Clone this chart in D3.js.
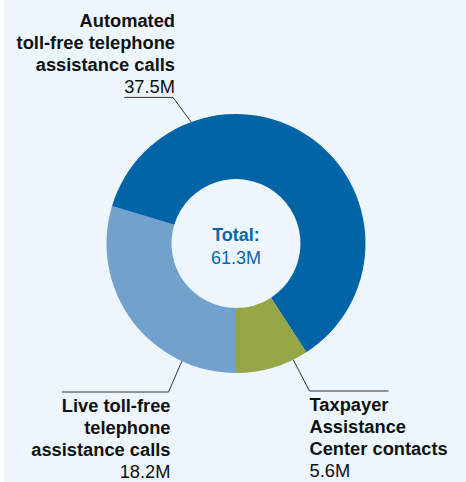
<!DOCTYPE html>
<html>
<head>
<meta charset="utf-8">
<script src="https://cdn.jsdelivr.net/npm/d3@7"></script>
<style>
  html, body { margin: 0; padding: 0; background: #ffffff; }
  svg { display: block; font-family: "Liberation Sans", Arial, sans-serif; }
</style>
</head>
<body>
<svg id="chart" width="466" height="482"></svg>
<script>
// Contact volumes, in millions
const categories = [
  "Live toll-free telephone assistance calls",
  "Automated toll-free telephone assistance calls",
  "Taxpayer Assistance Center contacts"
];
const labelLines = [
  ["Live toll-free", "telephone", "assistance calls"],
  ["Automated", "toll-free telephone", "assistance calls"],
  ["Taxpayer", "Assistance", "Center contacts"]
];
const values = [18.2, 37.5, 5.6];
const valueLabels = ["18.2M", "37.5M", "5.6M"];
const totalTitle = "Total:";
const totalLabel = "61.3M";

const colors = ["#72a1cc", "#0064a6", "#95a646"];

const W = 466, H = 482;
const cx = 236, cy = 243.5;
const outerR = 129.5, innerR = 64.5;
const fontSize = 18.3;

const svg = d3.select("#chart");

// panel background
svg.append("rect").attr("x", 4).attr("y", 0).attr("width", W - 4).attr("height", H)
  .attr("fill", "#eef6fd");

const g = svg.append("g").attr("transform", `translate(${cx},${cy})`);

const pie = d3.pie().sort(null).value(d => d).startAngle(Math.PI).endAngle(3 * Math.PI);
const arcs = pie(values);
const arc = d3.arc().innerRadius(innerR).outerRadius(outerR);

g.selectAll("path.slice").data(arcs).join("path")
  .attr("class", "slice")
  .attr("d", arc)
  .attr("fill", (d, i) => colors[i]);

// centre total
g.append("text").attr("text-anchor", "middle").attr("y", -3)
  .attr("font-size", 18).attr("font-weight", "bold").attr("fill", "#0b66aa")
  .text(totalTitle);
g.append("text").attr("text-anchor", "middle").attr("y", 20)
  .attr("font-size", 18).attr("fill", "#0b66aa")
  .text(totalLabel);

// label layout: leader touches the ring at `angle` (degrees, clockwise from top);
// text block is anchored at x with first baseline y0
const layout = [
  { angle: 204.7, x: 170.5, y0: 411.5, anchor: "end",   ruleAbove: true },
  { angle: -20.3, x: 175,   y0: 26.5,  anchor: "end",   ruleAbove: false },
  { angle: 153.8, x: 309.5, y0: 410.5, anchor: "start", ruleAbove: true }
];
const lineH = 22.3;

layout.forEach((L, i) => {
  const grp = svg.append("g");
  const lines = labelLines[i].concat([valueLabels[i]]);
  const texts = lines.map((s, k) =>
    grp.append("text")
      .attr("x", L.x).attr("y", L.y0 + k * lineH)
      .attr("text-anchor", L.anchor)
      .attr("font-size", fontSize)
      .attr("font-weight", k < lines.length - 1 ? "bold" : "normal")
      .attr("fill", "#111")
      .text(s));

  // horizontal rule spans the text line adjacent to it
  const ref = L.ruleAbove ? texts[0] : texts[texts.length - 1];
  const w = ref.node().getComputedTextLength();
  const ruleY = L.ruleAbove ? L.y0 - 19.5 : L.y0 + (lines.length - 1) * lineH + 4;
  const x1 = L.anchor === "end" ? L.x - w : L.x;
  const x2 = L.anchor === "end" ? L.x : L.x + w;
  const elbowX = L.anchor === "end" ? x2 - 2 : x1;

  const a = L.angle * Math.PI / 180;
  const px = cx + outerR * Math.sin(a);
  const py = cy - outerR * Math.cos(a);

  grp.append("path")
    .attr("d", L.anchor === "end"
      ? `M${x1},${ruleY}H${elbowX}L${px},${py}`
      : `M${x2},${ruleY}H${elbowX}L${px},${py}`)
    .attr("fill", "none").attr("stroke", "#333").attr("stroke-width", 1);
});
</script>
</body>
</html>
